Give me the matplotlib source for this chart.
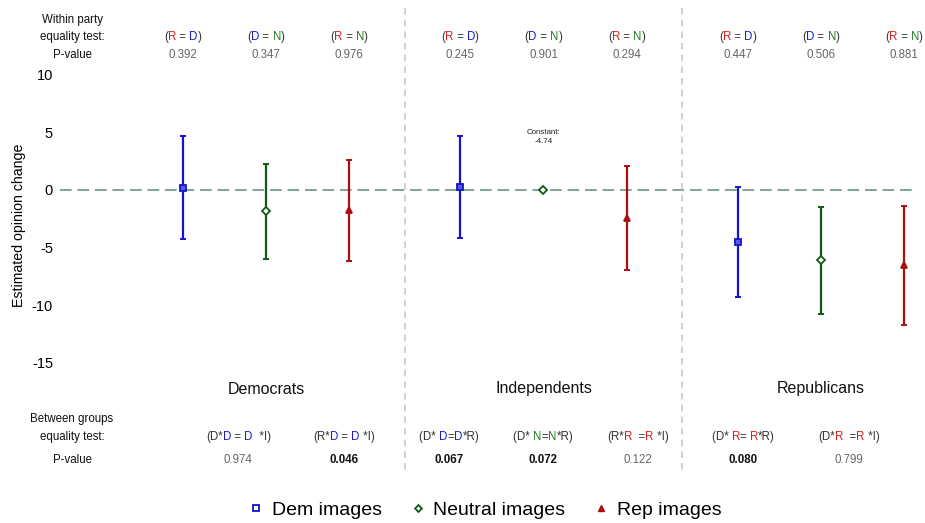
import numpy as np
import matplotlib
matplotlib.use("Agg")
import matplotlib.pyplot as plt
from matplotlib.lines import Line2D
from matplotlib.offsetbox import TextArea, HPacker, AnnotationBbox
from matplotlib.transforms import blended_transform_factory

plt.rcParams['font.family'] = ['Liberation Sans', 'DejaVu Sans']
plt.rcParams['axes.unicode_minus'] = False

# estimates and 95% intervals by party (Dem, Ind, Rep)
groups = ['Democrats', 'Independents', 'Republicans']
est_dem = [0.2, 0.26, -4.5]
lo_dem = [-4.3, -4.15, -9.3]
hi_dem = [4.7, 4.7, 0.25]
est_neu = [-1.85, 0.0, -6.1]
lo_neu = [-6.0, np.nan, -10.8]
hi_neu = [2.3, np.nan, -1.45]
est_rep = [-1.75, -2.4, -6.5]
lo_rep = [-6.2, -6.95, -11.7]
hi_rep = [2.6, 2.1, -1.4]
constant = -4.74

# within party tests
within_p = [[0.392, 0.347, 0.976],
            [0.245, 0.901, 0.294],
            [0.447, 0.506, 0.881]]
# between group tests
between_p = [0.974, 0.046, 0.067, 0.072, 0.122, 0.080, 0.799]

RED = '#d42020'
BLUE = '#1a1ad0'
GREEN = '#1e7a1e'
K = '#333333'
GRAY = '#666666'

within_labels = [
    [('(', K), ('R', RED), (' = ', K), ('D', BLUE), (')', K)],
    [('(', K), ('D', BLUE), (' = ', K), ('N', GREEN), (')', K)],
    [('(', K), ('R', RED), (' = ', K), ('N', GREEN), (')', K)],
]
between_labels = [
    [('(D*', K), ('D', BLUE), (' = ', K), ('D', BLUE), ('  *I)', K)],
    [('(R*', K), ('D', BLUE), (' = ', K), ('D', BLUE), (' *I)', K)],
    [('(D* ', K), ('D', BLUE), ('=', K), ('D', BLUE), ('*R)', K)],
    [('(D* ', K), ('N', GREEN), ('=', K), ('N', GREEN), ('*R)', K)],
    [('(R*', K), ('R', RED), ('  =', K), ('R', RED), (' *I)', K)],
    [('(D* ', K), ('R', RED), ('= ', K), ('R', RED), ('*R)', K)],
    [('(D*', K), ('R', RED), ('  =', K), ('R', RED), (' *I)', K)],
]
between_x = [-0.1, 0.28, 0.66, 1.0, 1.34, 1.72, 2.1]

W, H = 925, 523
fig = plt.figure(figsize=(W / 100, H / 100), dpi=100)
# axes box in pixels: left 60, right 917, top 70, bottom 380
ax = fig.add_axes([60 / W, 1 - 380 / H, (917 - 60) / W, (380 - 70) / H])
ax.set_xlim(-0.742, 2.346)
ax.set_ylim(-16.52, 10.43)
for s in ax.spines.values():
    s.set_visible(False)
ax.set_xticks([])
ax.set_yticks([10, 5, 0, -5, -10, -15])
ax.tick_params(axis='y', length=0, labelsize=10.5, pad=5)
ax.set_ylabel('Estimated opinion change', fontsize=10.2, labelpad=4)

ax.axhline(0, color='#7fa39a', lw=1.4, dashes=(6, 3), zorder=1)

x = np.arange(3)
off = 0.3
series = [
    (x - off, est_dem, lo_dem, hi_dem, '#1414c8', 's', '#5a5ae0'),
    (x, est_neu, lo_neu, hi_neu, '#0f5a14', 'D', 'white'),
    (x + off, est_rep, lo_rep, hi_rep, '#a81010', '^', '#a81010'),
]
for xs, est, lo, hi, col, mk, face in series:
    est = np.array(est)
    lo = np.array(lo)
    hi = np.array(hi)
    err = np.vstack([est - lo, hi - est])
    ax.errorbar(xs, est, yerr=err, fmt='none', ecolor=col, elinewidth=1.6,
                capsize=2, capthick=1.4, zorder=2)
    ax.plot(xs, est, ls='none', marker=mk, ms=5 if mk != 'D' else 4,
            mfc=face, mec=col, mew=1.3, zorder=3)

ax.text(1, 4.6, 'Constant:\n%.2f' % constant, ha='center', va='center',
        fontsize=5.7, color='#222222', linespacing=1.5)

# party separators
for xs in [0.5, 1.5]:
    xp = ax.transData.transform((xs, 0))[0] / W
    fig.add_artist(Line2D([xp, xp], [1 - 8 / H, 1 - 470 / H], color='#c8c8c8',
                          lw=1.2, dashes=(4, 3)))

tr = blended_transform_factory(ax.transData, fig.transFigure)


def fy(py):
    return 1 - py / H


def colored(xd, py, parts, size):
    boxes = [TextArea(s, textprops=dict(color=c, size=size)) for s, c in parts]
    pack = HPacker(children=boxes, align='baseline', pad=0, sep=0)
    ab = AnnotationBbox(pack, (xd, fy(py)), xycoords=tr, frameon=False,
                        box_alignment=(0.5, 0.5), pad=0)
    fig.add_artist(ab)


FS = 8.3
# within party header
for t, py in [('Within party', 20), ('equality test:', 37), ('P-value', 55)]:
    fig.text(72 / W, fy(py), t, ha='center', va='center', fontsize=FS, color='#111111')
for g in range(3):
    for j, xs in enumerate([g - off, g, g + off]):
        colored(xs, 37, within_labels[j], FS)
        fig.text(ax.transData.transform((xs, 0))[0] / W, fy(55), '%.3f' % within_p[g][j],
                 ha='center', va='center', fontsize=FS, color=GRAY)

# group names
for g, name in enumerate(groups):
    ax.text(g, fy(389), name, transform=tr, ha='center', va='center', fontsize=11.5,
            color='#111111')

# between groups footer
for t, py in [('Between groups', 419), ('equality test:', 437), ('P-value', 460)]:
    fig.text(72 / W, fy(py), t, ha='center', va='center', fontsize=FS, color='#111111')
for xs, parts, p in zip(between_x, between_labels, between_p):
    colored(xs, 437, parts, FS)
    bold = p < 0.1
    ax.text(xs, fy(460), '%.3f' % p, transform=tr, ha='center', va='center',
            fontsize=FS, color='#111111' if bold else GRAY,
            fontweight='bold' if bold else 'normal')

handles = [
    Line2D([], [], ls='none', marker='s', ms=4, mfc='white', mec='#1414c8', mew=1.3),
    Line2D([], [], ls='none', marker='D', ms=3.5, mfc='white', mec='#0f5a14', mew=1.3),
    Line2D([], [], ls='none', marker='^', ms=4.5, mfc='#a81010', mec='#a81010', mew=1),
]
fig.legend(handles, ['Dem images', 'Neutral images', 'Rep images'], ncol=3,
           loc='center', bbox_to_anchor=(484 / W, fy(510)), frameon=False,
           fontsize=14, handlelength=1.0, handletextpad=0.3, columnspacing=1.35,
           borderpad=0)

fig.savefig('out.png', dpi=100)
